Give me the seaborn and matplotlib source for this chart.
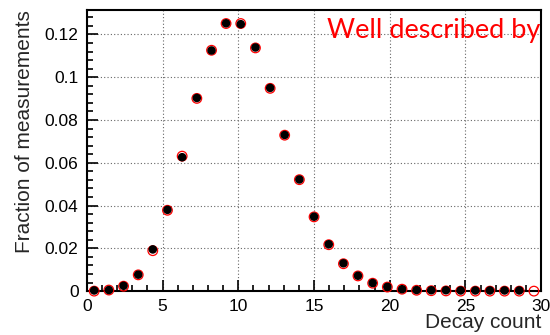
import matplotlib
matplotlib.use("Agg")
import matplotlib.pyplot as plt
import seaborn as sns
from matplotlib.ticker import MultipleLocator, FormatStrFormatter

# bin centres (31 bins spanning 0..30) and measured / expected fractions
decay_count = [0.48, 1.45, 2.42, 3.39, 4.35, 5.32, 6.29, 7.26, 8.23, 9.19,
               10.16, 11.13, 12.10, 13.06, 14.03, 15.00, 15.97, 16.94, 17.90, 18.87,
               19.84, 20.81, 21.77, 22.74, 23.71, 24.68, 25.65, 26.61, 27.58, 28.55,
               29.52]
measured = [0.0003, 0.0005, 0.0025, 0.0077, 0.0195, 0.0380, 0.0626, 0.0903, 0.1125, 0.1252,
            0.1248, 0.1139, 0.0950, 0.0730, 0.0522, 0.0348, 0.0219, 0.0130, 0.0072, 0.0038,
            0.0020, 0.0009, 0.0005, 0.0004, 0.0004, 0.0003, 0.0003, 0.0003, 0.0003, 0.0003,
            None]
expected = [0.0000, 0.0005, 0.0023, 0.0076, 0.0189, 0.0378, 0.0631, 0.0901, 0.1126, 0.1251,
            0.1251, 0.1137, 0.0948, 0.0729, 0.0521, 0.0347, 0.0217, 0.0128, 0.0071, 0.0037,
            0.0019, 0.0009, 0.0004, 0.0002, 0.0001, 0.0000, 0.0000, 0.0000, 0.0000, 0.0000,
            0.0000]

sns.set_style("white")
plt.rcParams['font.family'] = ['Liberation Sans', 'DejaVu Sans']

fig = plt.figure(figsize=(5.5, 3.35), dpi=100)
ax = fig.add_axes([0.158, 0.131, 0.826, 0.839])

mx = [x for x, v in zip(decay_count, measured) if v is not None]
my = [v for v in measured if v is not None]

sns.scatterplot(x=decay_count, y=expected, ax=ax, marker='o', s=48,
                fc='none', ec='red', linewidth=0.9, zorder=3, clip_on=False)
sns.scatterplot(x=mx, y=my, ax=ax, marker='o', s=38, color='black',
                edgecolor='none', zorder=4, clip_on=False)

ax.set_xlim(0, 30)
ax.set_ylim(0, 0.1314)
ax.xaxis.set_major_locator(MultipleLocator(5))
ax.xaxis.set_minor_locator(MultipleLocator(1))
ax.yaxis.set_major_locator(MultipleLocator(0.02))
ax.yaxis.set_minor_locator(MultipleLocator(0.004))
ax.yaxis.set_major_formatter(FormatStrFormatter('%g'))

ax.tick_params(which='both', direction='in', bottom=True, left=True,
               top=False, right=False, labelsize=12.5, colors='black', width=1.2)
ax.tick_params(which='major', length=8)
ax.tick_params(axis='x', which='major', pad=6)
ax.tick_params(axis='y', which='major', pad=6)
ax.tick_params(which='minor', length=4)

ax.grid(True, which='major', linestyle=(0, (1, 2)), color='#666666', linewidth=0.8)
ax.set_axisbelow(True)
for sp in ax.spines.values():
    sp.set_color('black')
    sp.set_linewidth(1.5)

ax.set_xlabel('Decay count', fontsize=15, loc='right', labelpad=-1)
ax.set_ylabel('Fraction of measurements', fontsize=15, loc='top', labelpad=8)

ax.text(0.528, 0.97, 'Well described by', transform=ax.transAxes, color='red',
        fontsize=19.5, ha='left', va='top', family='Lato', clip_on=True, zorder=5)

fig.savefig('out.png', dpi=100)
